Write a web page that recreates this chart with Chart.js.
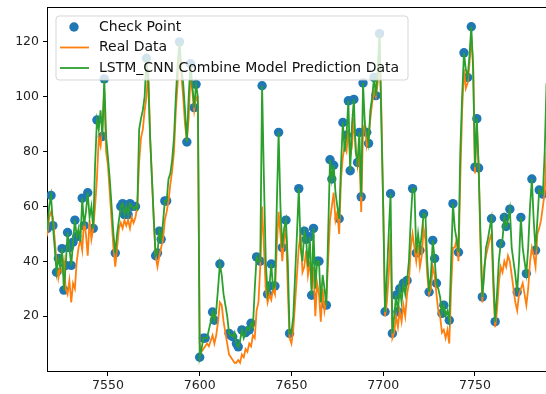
<!DOCTYPE html>
<html>
<head>
<meta charset="utf-8">
<script src="https://cdn.jsdelivr.net/npm/chart.js@4.4.1/dist/chart.umd.min.js"></script>
<style>
body { margin: 0; background: #fff; }
</style>
</head>
<body>
<canvas id="myChart" width="546" height="394"></canvas>
<script>
// time index: first step of the series
var firstStep = 7516;

// prediction (green), one value per step from 7516
var predData = [
    50, 52, 60, 64, 53, 45, 36, 41, 38, 44.6,
    29.5, 38.5, 50.5, 45, 38.5, 47, 55, 49, 52, 47,
    63, 53, 58, 65, 56, 60, 52, 75, 91.5, 88,
    95, 85.5, 106.5, 85.5, 78, 70, 60, 50, 43, 50,
    55, 60, 61, 57, 60, 57, 61, 60, 59, 60,
    59, 88, 92, 95, 100, 114, 105, 85, 70, 55,
    42, 43, 51, 48, 54, 62, 62, 70, 72, 77,
    85, 100, 112, 120, 110, 105, 95, 83.5, 100, 112,
    104, 96, 104.5, 100, 5, 8, 12, 12, 12, 15,
    18, 21.5, 18.5, 22, 30, 39, 35, 28, 24, 20,
    13.7, 13, 12.5, 14, 10, 8.8, 11, 15, 12, 14,
    16, 15, 17.4, 16, 30, 41.6, 40, 40, 104, 70,
    40, 28, 31, 39, 30, 31, 60, 87, 60, 45,
    52, 55, 40, 13.7, 14, 20, 35, 50, 66.5, 45,
    40, 51, 48, 38, 49, 27.6, 52, 30, 40, 40,
    25, 35, 30, 24, 50, 77, 70, 75, 65, 60,
    55.5, 75, 90.6, 80, 86, 98.5, 73, 90, 99, 80,
    76, 87, 63.5, 105, 90, 87, 83, 95, 100, 107,
    100.4, 110, 123, 90, 60, 21.6, 35, 50, 64.6, 13.7,
    20, 27.6, 21.6, 30, 25, 32, 28, 33, 40, 55,
    66.5, 66.5, 43, 50, 44, 50, 57.3, 57, 40, 28.8,
    35, 47.6, 41, 32, 30, 27, 21, 24, 20, 22,
    18.5, 40, 61, 52, 48, 43.3, 80, 100, 116, 110,
    107, 115, 125.5, 110, 74.3, 92, 74, 50, 27, 35,
    45, 48, 52, 55.5, 35, 18, 28, 40, 46.4, 48,
    56, 52.7, 55, 59, 45, 40, 35, 28.8, 40, 56,
    45, 40, 35.5, 45, 60, 70, 55, 44, 55, 66,
    65, 64.5, 80, 105, 120
];

// real data (orange), same steps
var realData = [
    48, 50, 56, 58, 56, 48, 40, 34, 38, 36,
    40, 30, 28, 33, 25, 32, 30, 40, 45, 48,
    44, 55, 50, 42, 55, 48, 52, 60, 70, 85,
    82, 90, 102, 80, 75, 65, 55, 45, 38, 45,
    52, 54, 52, 55, 53, 55, 52, 56, 54, 56,
    60, 76, 85, 88, 95, 100, 110, 85, 70, 55,
    42, 38, 42, 45, 48, 55, 58, 62, 68, 73,
    80, 95, 105, 118, 108, 100, 90, 84, 92, 108,
    102, 95, 100, 98, 10, 7, 8, 9, 10, 9,
    11, 13, 10, 13, 18, 25, 24, 18, 14, 10,
    6, 5, 4, 3, 3, 4, 3, 6, 5, 8,
    7, 10, 9, 13, 12, 22, 25, 38, 60, 45,
    30, 25, 28, 26, 30, 28, 45, 58, 50, 40,
    48, 52, 30, 12, 10, 15, 25, 35, 45, 50,
    36, 38, 44, 35, 40, 30, 38, 20, 32, 28,
    18, 30, 22, 26, 40, 55, 60, 65, 55, 58,
    50, 70, 78, 82, 80, 88, 78, 82, 92, 82,
    75, 80, 58, 88, 90, 82, 85, 92, 98, 102,
    100, 105, 120, 95, 60, 20, 25, 35, 50, 12,
    14, 20, 16, 22, 18, 24, 20, 28, 32, 45,
    50, 45, 40, 46, 38, 42, 52, 48, 35, 28,
    30, 38, 35, 28, 22, 20, 14, 15, 12, 15,
    10, 30, 45, 45, 48, 40, 70, 95, 110, 103,
    105, 112, 122, 112, 72, 90, 75, 45, 25, 38,
    42, 45, 48, 50, 30, 16, 22, 32, 38, 36,
    40, 38, 42, 40, 35, 30, 25, 22, 28, 30,
    32, 28, 24, 30, 40, 45, 42, 38, 50, 52,
    55, 60, 65, 80, 100
];

// check points (blue dots)
var checkX = [
    7517, 7519, 7520, 7522, 7523, 7525, 7526, 7527, 7528, 7529,
    7530, 7531, 7532, 7533, 7536, 7537, 7539, 7542, 7544, 7547,
    7548, 7554, 7557, 7558, 7559, 7560, 7561, 7562, 7563, 7565,
    7571, 7576, 7577, 7578, 7579, 7581, 7582, 7589, 7593, 7595,
    7597, 7598, 7600, 7602, 7603, 7607, 7608, 7611, 7616, 7617,
    7618, 7620, 7621, 7623, 7625, 7627, 7628, 7631, 7633, 7634,
    7637, 7638, 7639, 7641, 7643, 7645, 7647, 7649, 7654, 7657,
    7658, 7660, 7661, 7662, 7664, 7665, 7669, 7671, 7672, 7673,
    7676, 7678, 7680, 7681, 7682, 7684, 7686, 7687, 7688, 7689,
    7691, 7692, 7695, 7696, 7698, 7701, 7704, 7705, 7707, 7708,
    7709, 7711, 7713, 7716, 7718, 7720, 7722, 7725, 7727, 7728,
    7729, 7732, 7733, 7736, 7738, 7741, 7744, 7746, 7748, 7750,
    7751, 7752, 7754, 7759, 7761, 7764, 7766, 7767, 7769, 7773,
    7775, 7778, 7781, 7783, 7785, 7787
];
var checkY = [
    52, 64, 53, 36, 41, 44.6, 29.5, 38.5, 50.5, 45,
    38.5, 47, 55, 49, 63, 53, 65, 52, 91.5, 85.5,
    106.5, 43, 60, 61, 57, 60, 57, 61, 60, 60,
    114, 42, 43, 51, 48, 62, 62, 120, 83.5, 112,
    96, 104.5, 5, 12, 12, 21.5, 18.5, 39, 13.7, 13,
    12.5, 10, 8.8, 15, 14, 15, 17.4, 41.6, 40, 104,
    28, 31, 39, 31, 87, 45, 55, 13.7, 66.5, 51,
    48, 49, 27.6, 52, 40, 40, 24, 77, 70, 75,
    55.5, 90.6, 86, 98.5, 73, 99, 76, 87, 63.5, 105,
    87, 83, 107, 100.4, 123, 21.6, 64.6, 13.7, 27.6, 21.6,
    30, 32, 33, 66.5, 43, 44, 57.3, 28.8, 47.6, 41,
    32, 21, 24, 18.5, 61, 43.3, 116, 107, 125.5, 74.3,
    92, 74, 27, 55.5, 18, 46.4, 56, 52.7, 59, 28.8,
    56, 35.5, 70, 44, 66, 64.5
];

var xTicks = [7550, 7600, 7650, 7700, 7750];
var yTicks = [20, 40, 60, 80, 100, 120];
var legendLabels = ['Check Point', 'Real Data', 'LSTM_CNN Combine Model Prediction Data'];

var blue = '#1f77b4', orange = '#ff7f0e', green = '#2ca02c';

function toPoints(values) {
    return values.map(function(v, i) { return { x: firstStep + i, y: v }; });
}

var legendBox = {
    id: 'legendBox',
    afterDraw: function(chart) {
        var ctx = chart.ctx;
        var a = chart.chartArea;
        ctx.save();
        // top spine
        ctx.strokeStyle = '#000';
        ctx.lineWidth = 1;
        ctx.beginPath();
        ctx.moveTo(a.left, a.top + 0.5);
        ctx.lineTo(a.right, a.top + 0.5);
        ctx.stroke();

        // legend frame
        var bx = a.left + 9, by = a.top + 9, bw = 352, bh = 64, r = 3;
        ctx.beginPath();
        ctx.moveTo(bx + r, by);
        ctx.arcTo(bx + bw, by, bx + bw, by + bh, r);
        ctx.arcTo(bx + bw, by + bh, bx, by + bh, r);
        ctx.arcTo(bx, by + bh, bx, by, r);
        ctx.arcTo(bx, by, bx + bw, by, r);
        ctx.closePath();
        ctx.fillStyle = 'rgba(255,255,255,0.8)';
        ctx.fill();
        ctx.strokeStyle = 'rgba(204,204,204,0.8)';
        ctx.stroke();

        var rows = [by + 11, by + 31.5, by + 52];
        // handles
        ctx.fillStyle = blue;
        ctx.beginPath();
        ctx.arc(bx + 18, rows[0], 4.7, 0, Math.PI * 2);
        ctx.fill();
        ctx.lineWidth = 1.8;
        ctx.strokeStyle = orange;
        ctx.beginPath();
        ctx.moveTo(bx + 4, rows[1]);
        ctx.lineTo(bx + 33, rows[1]);
        ctx.stroke();
        ctx.strokeStyle = green;
        ctx.beginPath();
        ctx.moveTo(bx + 4, rows[2]);
        ctx.lineTo(bx + 33, rows[2]);
        ctx.stroke();

        ctx.fillStyle = '#111';
        ctx.font = '14px "DejaVu Sans"';
        ctx.textBaseline = 'middle';
        legendLabels.forEach(function(t, i) {
            ctx.fillText(t, bx + 43, rows[i]);
        });
        ctx.restore();
    }
};

var ctx = document.getElementById('myChart').getContext('2d');
var myChart = new Chart(ctx, {
    type: 'line',
    data: {
        datasets: [
            {
                label: legendLabels[0],
                type: 'scatter',
                data: checkX.map(function(x, i) { return { x: x, y: checkY[i] }; }),
                showLine: false,
                pointRadius: 4.7,
                pointBackgroundColor: blue,
                pointBorderWidth: 0,
                order: 3
            },
            {
                label: legendLabels[1],
                data: toPoints(realData),
                borderColor: orange,
                borderWidth: 1.8,
                pointRadius: 0,
                tension: 0,
                order: 2
            },
            {
                label: legendLabels[2],
                data: toPoints(predData),
                borderColor: green,
                borderWidth: 1.8,
                pointRadius: 0,
                tension: 0,
                order: 1
            }
        ]
    },
    options: {
        responsive: false,
        animation: false,
        layout: { autoPadding: false, padding: { top: 7, left: 0, right: 0, bottom: 0 } },
        plugins: {
            legend: { display: false },
            tooltip: { enabled: false }
        },
        scales: {
            x: {
                type: 'linear',
                min: 7516.8,
                max: 7788.7,
                afterBuildTicks: function(s) { s.ticks = xTicks.map(function(v) { return { value: v }; }); },
                afterFit: function(s) { s.height = 23; s.paddingLeft = 0; s.paddingRight = 0; },
                ticks: {
                    color: '#222',
                    font: { family: 'DejaVu Sans', size: 12.5 },
                    padding: 2,
                    maxRotation: 0,
                    autoSkip: false,
                    callback: function(v) { return String(v); }
                },
                grid: { drawOnChartArea: false, drawTicks: true, tickLength: 5, color: '#000' },
                border: { display: true, color: '#000', width: 1 }
            },
            y: {
                min: 0,
                max: 132.7,
                afterBuildTicks: function(s) { s.ticks = yTicks.map(function(v) { return { value: v }; }); },
                afterFit: function(s) { s.width = 47; s.paddingTop = 0; s.paddingBottom = 0; },
                ticks: {
                    color: '#222',
                    font: { family: 'DejaVu Sans', size: 12.5 },
                    padding: 4,
                    autoSkip: false,
                    callback: function(v) { return String(v); }
                },
                grid: { drawOnChartArea: false, drawTicks: true, tickLength: 4, color: '#000' },
                border: { display: true, color: '#000', width: 1 }
            }
        }
    },
    plugins: [legendBox]
});
</script>
</body>
</html>
